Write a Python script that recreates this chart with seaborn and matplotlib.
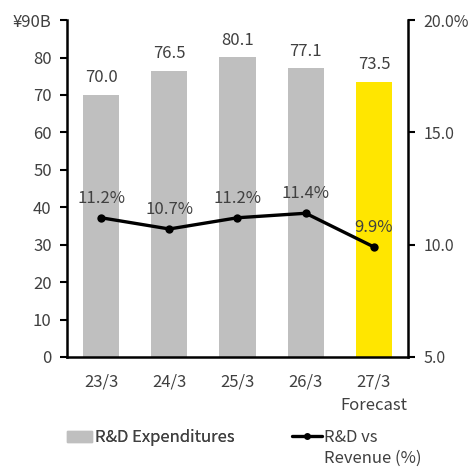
import numpy as np
import pandas as pd
import matplotlib
matplotlib.use('Agg')
import matplotlib.pyplot as plt
import seaborn as sns
from matplotlib.patches import Patch
from matplotlib.lines import Line2D

# data
periods = ['23/3', '24/3', '25/3', '26/3', '27/3']
rd_expenditures = [70.0, 76.5, 80.1, 77.1, 73.5]
rd_ratio = [11.2, 10.7, 11.2, 11.4, 9.9]
bar_colors = ['#BFBFBF', '#BFBFBF', '#BFBFBF', '#BFBFBF', '#FFE600']

sns.set_style('white')
plt.rcParams['font.family'] = ['Noto Sans CJK JP', 'DejaVu Sans']
txt = '#404040'

df = pd.DataFrame({'period': periods, 'rd': rd_expenditures, 'ratio': rd_ratio})

fig = plt.figure(figsize=(4.73, 4.68), dpi=100)
ax = fig.add_axes([0.1416, 0.2372, 0.721, 0.7198])

sns.barplot(data=df, x='period', y='rd', hue='period', palette=bar_colors,
            legend=False, width=0.53, ax=ax, saturation=1, linewidth=0)
ax.set_ylim(0, 90)
ax.set_yticks(range(0, 91, 10))
ax.set_yticklabels([str(v) for v in range(0, 90, 10)] + ['¥90B'])
ax.set_xlabel('')
ax.set_ylabel('')
ax.set_xlim(-0.5, 4.5)
for i, v in enumerate(rd_expenditures):
    ax.text(i, v + 2.3, f'{v:.1f}', ha='center', va='bottom', fontsize=12, color=txt)

# line on the secondary axis
ax2 = ax.twinx()
sns.lineplot(x=np.arange(len(periods)), y=rd_ratio, color='black', linewidth=2.4,
             marker='o', markersize=6, markeredgewidth=0, ax=ax2)
ax2.set_ylim(5, 20)
ax2.set_yticks([5, 10, 15, 20])
ax2.set_yticklabels(['5.0', '10.0', '15.0', '20.0%'])
for i, v in enumerate(rd_ratio):
    ax2.text(i, v + 0.5, f'{v:.1f}%', ha='center', va='bottom', fontsize=12, color=txt)

for a in (ax, ax2):
    for s in a.spines.values():
        s.set_visible(False)
    a.tick_params(axis='y', length=5, width=1.5, color='black', labelsize=12,
                  labelcolor=txt, pad=6)
ax2.tick_params(axis='y', pad=6, labelsize=11.5)
ax.spines['left'].set_visible(True)
ax.spines['bottom'].set_visible(True)
ax2.spines['right'].set_visible(True)
for s in (ax.spines['left'], ax.spines['bottom'], ax2.spines['right']):
    s.set_color('black')
    s.set_linewidth(1.8)
ax.tick_params(axis='x', length=0, labelsize=12, labelcolor=txt, pad=12)

ax.text(4, -0.143, 'Forecast', transform=ax.get_xaxis_transform(), ha='center',
        va='center', fontsize=12, color=txt)

# legends under the chart
leg1 = fig.legend([Patch(color='#BFBFBF')], ['R&D Expenditures'],
                  loc='upper left', bbox_to_anchor=(0.142, 0.083), frameon=False,
                  fontsize=12, labelcolor=txt, handlelength=1.5, handleheight=0.6,
                  handletextpad=0.2, borderaxespad=0, borderpad=0)
fig.add_artist(leg1)
fig.legend([Line2D([0], [0], color='black', linewidth=2.4, marker='o', markersize=5,
                   markeredgewidth=0),
            Line2D([], [], alpha=0)],
           ['R&D vs', 'Revenue (%)'],
           loc='upper left', bbox_to_anchor=(0.618, 0.083), frameon=False,
           fontsize=12, labelcolor=txt, handlelength=1.8, labelspacing=0.25,
           handletextpad=0.1, borderaxespad=0, borderpad=0)

fig.savefig('out.png', dpi=100)
